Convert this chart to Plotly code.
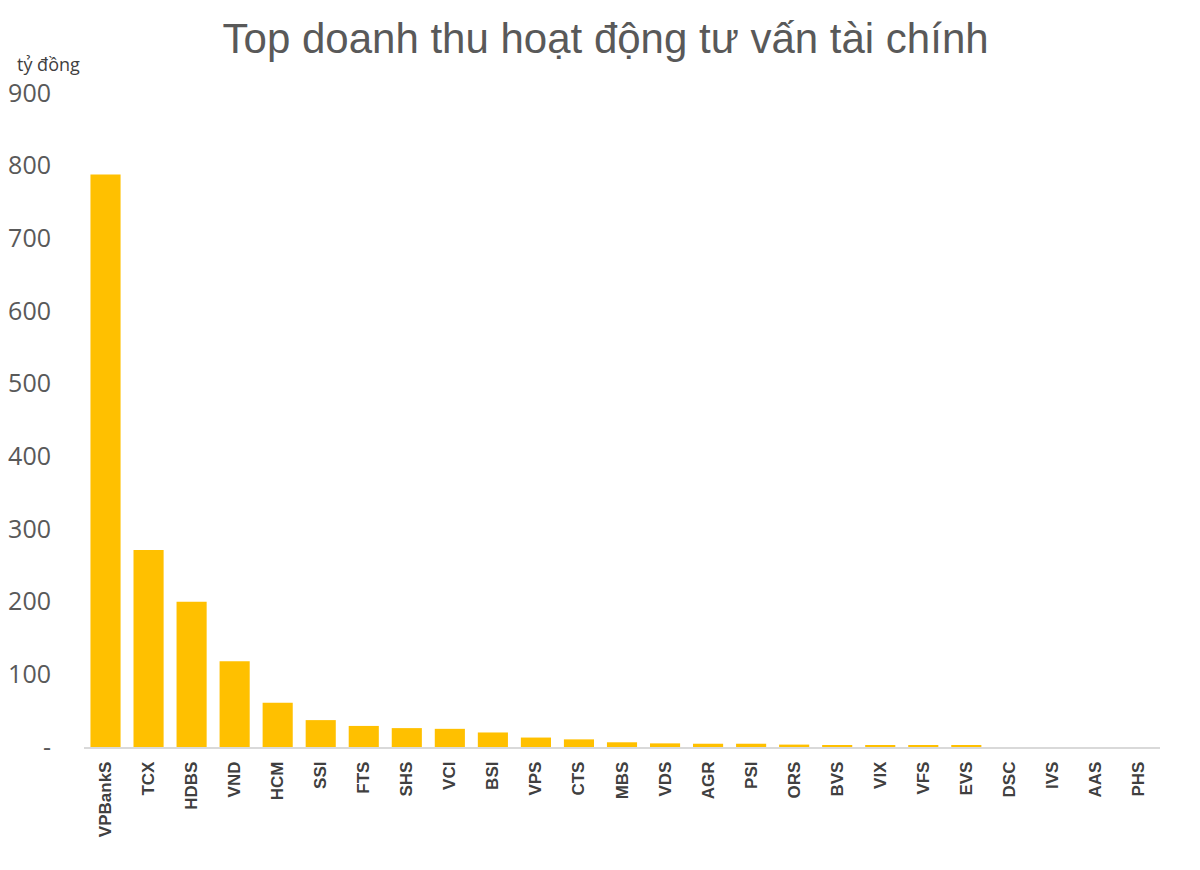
import plotly.graph_objects as go

categories = ["VPBankS", "TCX", "HDBS", "VND", "HCM", "SSI", "FTS", "SHS", "VCI", "BSI",
              "VPS", "CTS", "MBS", "VDS", "AGR", "PSI", "ORS", "BVS", "VIX", "VFS",
              "EVS", "DSC", "IVS", "AAS", "PHS"]
values = [788, 271, 200, 118, 61, 37, 29, 26, 25, 20,
          13, 10.5, 6.5, 5, 4.5, 4.5, 3.3, 2.8, 2.3, 2.3,
          1.5, 0, 0, 0, 0]
y_ticks = [0, 100, 200, 300, 400, 500, 600, 700, 800, 900]
y_tick_labels = ["-", "100", "200", "300", "400", "500", "600", "700", "800", "900"]

fig = go.Figure(go.Bar(x=categories, y=values, marker_color="#FFC000",
                       marker_line_width=0))

fig.update_layout(
    width=1200, height=870,
    margin=dict(l=76, r=48, t=85, b=131, autoexpand=False),
    plot_bgcolor="white", paper_bgcolor="white",
    bargap=0.3,
    showlegend=False,
    title=dict(text="Top doanh thu hoạt động tư vấn tài chính",
               x=0.498, xanchor="center", y=0.9655, yanchor="middle",
               font=dict(family="Liberation Sans, Arial", size=42, color="#595959")),
    annotations=[dict(text="tỷ đồng", xref="paper", yref="paper", x=-0.064, y=1.045,
                      xanchor="left", yanchor="middle", showarrow=False,
                      font=dict(family="Open Sans, Noto Sans", size=18, color="#404040"))],
)
fig.update_xaxes(
    tickangle=-90, showgrid=False, showline=True, linecolor="#D9D9D9", linewidth=1.5,
    ticks="", automargin=False,
    tickfont=dict(family="Liberation Sans, Arial", size=17, color="#404040", weight="bold"),
    ticklabelstandoff=6,
)
fig.update_yaxes(
    range=[0, 900], tickvals=y_ticks, ticktext=y_tick_labels, showgrid=False,
    zeroline=False, showline=False, ticks="", automargin=False,
    tickfont=dict(family="Open Sans, Noto Sans", size=25, color="#595959"),
    ticklabelstandoff=32,
)
fig.write_html("out.html")
